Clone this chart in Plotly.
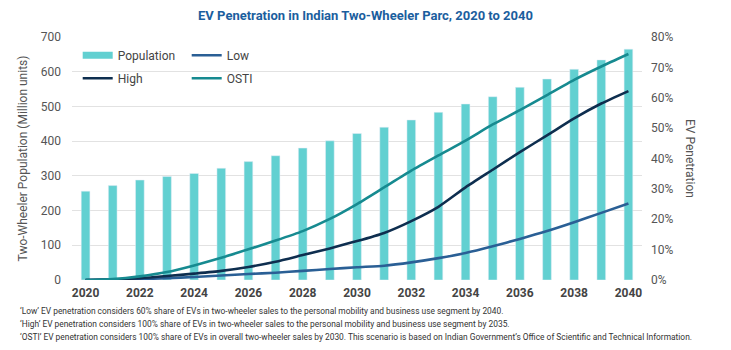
import plotly.graph_objects as go

years = list(range(2020, 2041))
population = [256, 272, 288, 298, 307, 322, 341, 358, 380, 401, 422, 440, 461, 483, 507, 528, 555, 579, 607, 634, 665]
low = [0.0, 0.1, 0.3, 0.6, 1.0, 1.5, 2.0, 2.4, 3.0, 3.6, 4.2, 4.7, 5.8, 7.2, 8.9, 11.1, 13.5, 16.1, 19.0, 22.1, 25.2]
high = [0.0, 0.2, 0.6, 1.3, 2.1, 3.0, 4.3, 6.0, 8.2, 10.4, 12.8, 15.5, 19.4, 24.1, 30.5, 36.3, 42.1, 47.6, 53.2, 58.1, 62.2]
osti = [0.0, 0.3, 1.2, 2.6, 4.8, 7.3, 10.1, 13.0, 16.1, 20.1, 25.0, 30.5, 36.0, 41.0, 45.9, 51.2, 55.9, 60.9, 65.9, 70.3, 74.4]
left_ticks = [0, 100, 200, 300, 400, 500, 600, 700]
right_ticks = [0, 10, 20, 30, 40, 50, 60, 70, 80]
x_ticks = list(range(2020, 2041, 2))

FONT = "Roboto, sans-serif"
BAR_C = "#62D0D1"

fig = go.Figure()
fig.add_trace(go.Bar(x=years, y=population, name="Population", marker_color=BAR_C,
                     width=0.32, showlegend=False))
# legend-only entry so the population key is a wide flat rectangle like the reference
fig.add_trace(go.Scatter(x=[None], y=[None], name="Population", mode="lines",
                         line=dict(color=BAR_C, width=7), legend="legend"))
fig.add_trace(go.Scatter(x=years, y=[v / 100 for v in low], name="Low", yaxis="y2", mode="lines",
                         line=dict(color="#2A5F95", width=2.6, shape="spline", smoothing=0.6), legend="legend"))
fig.add_trace(go.Scatter(x=years, y=[v / 100 for v in high], name="High", yaxis="y2", mode="lines",
                         line=dict(color="#0E2E4F", width=2.6, shape="spline", smoothing=0.6), legend="legend2"))
fig.add_trace(go.Scatter(x=years, y=[v / 100 for v in osti], name="OSTI", yaxis="y2", mode="lines",
                         line=dict(color="#168A90", width=2.6, shape="spline", smoothing=0.6), legend="legend2"))

fig.update_layout(
    width=731, height=350,
    margin=dict(l=72, r=89, t=37, b=70),
    paper_bgcolor="white", plot_bgcolor="white",
    font=dict(family=FONT, size=11, color="#555555"),
    title=dict(text="EV Penetration in Indian Two-Wheeler Parc, 2020 to 2040",
               x=0.5, xanchor="center", y=0.955, yanchor="middle", yref="container",
               font=dict(family=FONT, size=13, color="#1B5E9E", weight="bold")),
    showlegend=True,
    bargap=0.7,
    xaxis=dict(range=[2019.5, 2040.5], tickvals=x_ticks, ticktext=[str(t) for t in x_ticks],
               showgrid=False, showline=False, ticks="", ticklabelstandoff=4,
               tickfont=dict(family=FONT, size=12, color="#444444", weight="bold")),
    yaxis=dict(range=[0, 700], tickvals=left_ticks, showgrid=True, gridcolor="#E2E2E2", gridwidth=1,
               zeroline=False, ticks="", ticklabelstandoff=10,
               tickfont=dict(family=FONT, size=12, color="#555555"),
               title=dict(text="Two-Wheeler Population (Million units)", standoff=10,
                          font=dict(family=FONT, size=12, color="#555555"))),
    yaxis2=dict(range=[0, 0.8], tickvals=[t / 100 for t in right_ticks],
                ticktext=[f"{t}%" for t in right_ticks], overlaying="y", side="right",
                showgrid=False, zeroline=False, ticks="", ticklabelstandoff=8,
                tickfont=dict(family=FONT, size=12, color="#555555")),
    legend=dict(orientation="h", x=0.01, y=0.925, xanchor="left", yanchor="middle",
                bgcolor="rgba(255,255,255,0)", entrywidth=64, entrywidthmode="pixels",
                font=dict(family=FONT, size=12, color="#444444"), itemwidth=30,
                traceorder="normal"),
    legend2=dict(orientation="h", x=0.01, y=0.83, xanchor="left", yanchor="middle",
                 bgcolor="rgba(255,255,255,0)", entrywidth=64, entrywidthmode="pixels",
                 font=dict(family=FONT, size=12, color="#444444"), itemwidth=30,
                 traceorder="normal"),
)

fig.add_annotation(text="EV Penetration", xref="paper", yref="paper", x=1.085, y=0.5,
                   textangle=90, showarrow=False, xanchor="center", yanchor="middle",
                   font=dict(family=FONT, size=12, color="#555555"))

notes = [
    "‘Low’ EV penetration considers 60% share of EVs in two-wheeler sales to the personal mobility and business use segment by 2040.",
    "‘High’ EV penetration considers 100% share of EVs in two-wheeler sales to the personal mobility and business use segment by 2035.",
    "‘OSTI’ EV penetration considers 100% share of EVs in overall two-wheeler sales by 2030. This scenario is based on Indian Government’s Office of Scientific and Technical Information.",
]
for i, n in enumerate(notes):
    fig.add_annotation(text=n, xref="paper", yref="paper", x=-0.095, y=-0.128 - i * 0.054,
                       xanchor="left", yanchor="middle", showarrow=False,
                       font=dict(family=FONT, size=8.4, color="#333333"))

fig.write_html("out.html")
